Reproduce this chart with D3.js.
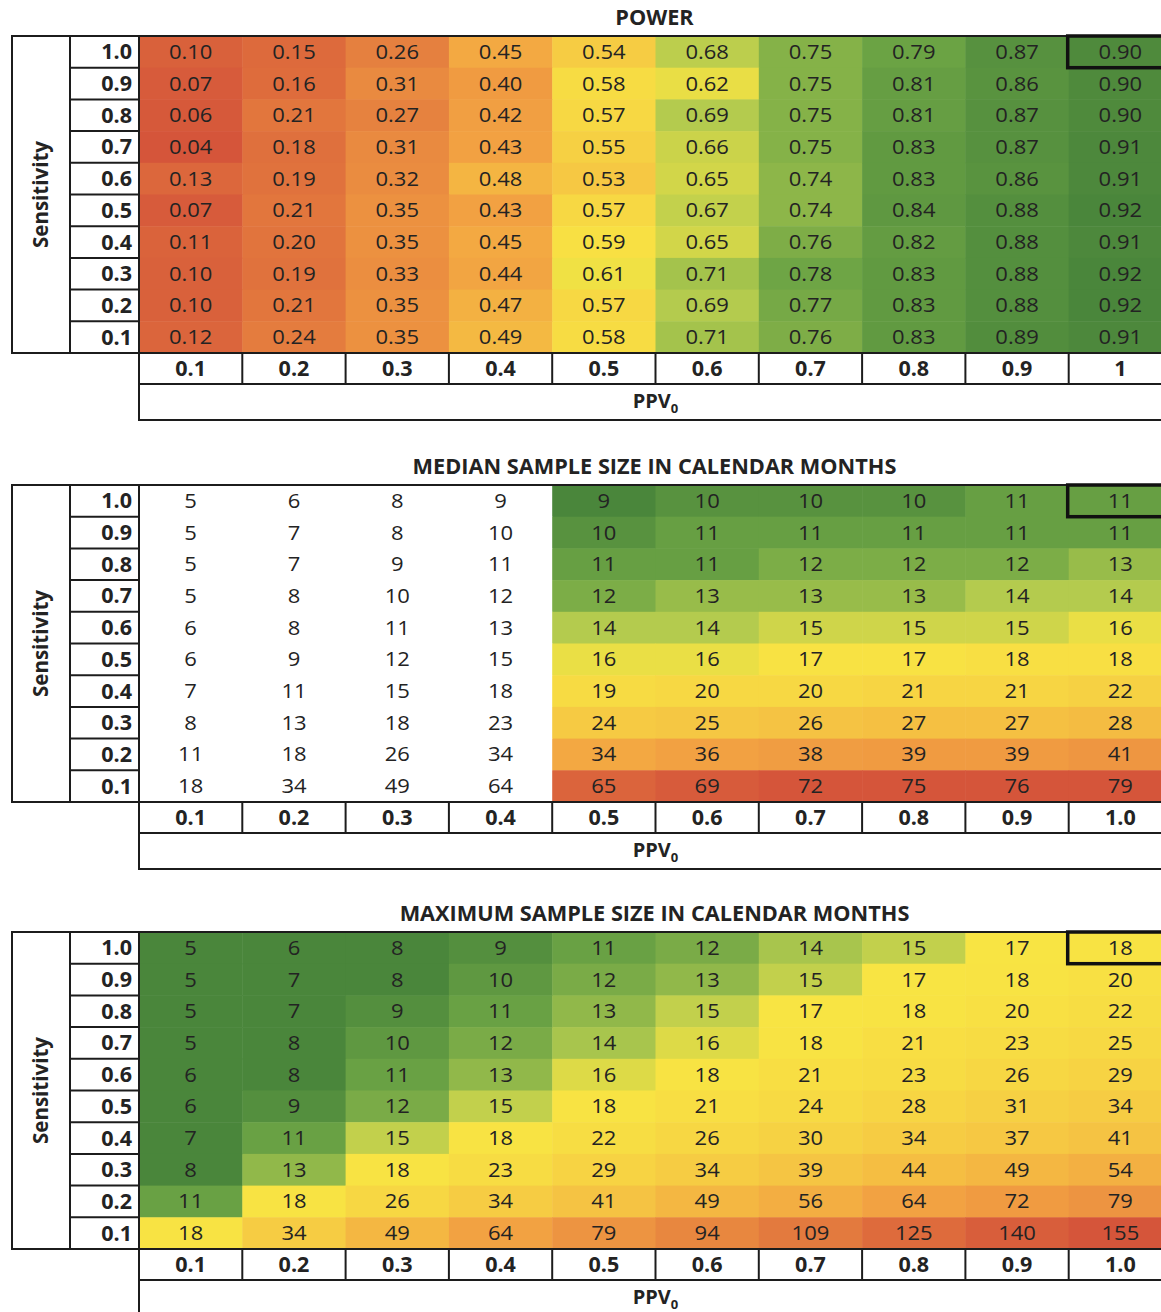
<!DOCTYPE html>
<html>
<head>
<meta charset="utf-8">
<script src="https://cdn.jsdelivr.net/npm/d3@7"></script>
<style>
  html, body { margin: 0; padding: 0; background: #ffffff; }
  svg { display: block; }
  text { font-family: "Open Sans", "Noto Sans", sans-serif; fill: #232323; }
</style>
</head>
<body>
<svg id="chart" width="1161" height="1312"></svg>
<script>
// Row categories (sensitivity), top to bottom
const sensitivity = ["1.0", "0.9", "0.8", "0.7", "0.6", "0.5", "0.4", "0.3", "0.2", "0.1"];
// Column categories (PPV0), left to right
const ppvTicksPower = ["0.1", "0.2", "0.3", "0.4", "0.5", "0.6", "0.7", "0.8", "0.9", "1"];
const ppvTicksMonths = ["0.1", "0.2", "0.3", "0.4", "0.5", "0.6", "0.7", "0.8", "0.9", "1.0"];

// Power by sensitivity (rows) and PPV0 (columns)
const powerValues = [
  [0.10, 0.15, 0.26, 0.45, 0.54, 0.68, 0.75, 0.79, 0.87, 0.90],
  [0.07, 0.16, 0.31, 0.40, 0.58, 0.62, 0.75, 0.81, 0.86, 0.90],
  [0.06, 0.21, 0.27, 0.42, 0.57, 0.69, 0.75, 0.81, 0.87, 0.90],
  [0.04, 0.18, 0.31, 0.43, 0.55, 0.66, 0.75, 0.83, 0.87, 0.91],
  [0.13, 0.19, 0.32, 0.48, 0.53, 0.65, 0.74, 0.83, 0.86, 0.91],
  [0.07, 0.21, 0.35, 0.43, 0.57, 0.67, 0.74, 0.84, 0.88, 0.92],
  [0.11, 0.20, 0.35, 0.45, 0.59, 0.65, 0.76, 0.82, 0.88, 0.91],
  [0.10, 0.19, 0.33, 0.44, 0.61, 0.71, 0.78, 0.83, 0.88, 0.92],
  [0.10, 0.21, 0.35, 0.47, 0.57, 0.69, 0.77, 0.83, 0.88, 0.92],
  [0.12, 0.24, 0.35, 0.49, 0.58, 0.71, 0.76, 0.83, 0.89, 0.91]
];

// Median sample size in calendar months
const medianMonths = [
  [5, 6, 8, 9, 9, 10, 10, 10, 11, 11],
  [5, 7, 8, 10, 10, 11, 11, 11, 11, 11],
  [5, 7, 9, 11, 11, 11, 12, 12, 12, 13],
  [5, 8, 10, 12, 12, 13, 13, 13, 14, 14],
  [6, 8, 11, 13, 14, 14, 15, 15, 15, 16],
  [6, 9, 12, 15, 16, 16, 17, 17, 18, 18],
  [7, 11, 15, 18, 19, 20, 20, 21, 21, 22],
  [8, 13, 18, 23, 24, 25, 26, 27, 27, 28],
  [11, 18, 26, 34, 34, 36, 38, 39, 39, 41],
  [18, 34, 49, 64, 65, 69, 72, 75, 76, 79]
];

// Maximum sample size in calendar months
const maxMonths = [
  [5, 6, 8, 9, 11, 12, 14, 15, 17, 18],
  [5, 7, 8, 10, 12, 13, 15, 17, 18, 20],
  [5, 7, 9, 11, 13, 15, 17, 18, 20, 22],
  [5, 8, 10, 12, 14, 16, 18, 21, 23, 25],
  [6, 8, 11, 13, 16, 18, 21, 23, 26, 29],
  [6, 9, 12, 15, 18, 21, 24, 28, 31, 34],
  [7, 11, 15, 18, 22, 26, 30, 34, 37, 41],
  [8, 13, 18, 23, 29, 34, 39, 44, 49, 54],
  [11, 18, 26, 34, 41, 49, 56, 64, 72, 79],
  [18, 34, 49, 64, 79, 94, 109, 125, 140, 155]
];

// Colour ramp shared by the three tables: red -> orange -> yellow -> greens
const rampColours = ["#d5553a", "#f2a142", "#f8e443", "#b4cb4e", "#6ea545", "#4a863b"];
// Value at which each ramp colour is reached, per table
const powerStops = [0.04, 0.43, 0.60, 0.69, 0.78, 0.92];
const medianStops = [72, 36, 16.5, 14, 11.5, 9];
const maxStops = [150, 65, 17, 14.5, 11.5, 8];

const panels = [
  { title: "POWER", values: powerValues, ticks: ppvTicksPower, stops: powerStops,
    fmt: d3.format(".2f"), firstColoured: 0, top: 36 },
  { title: "MEDIAN SAMPLE SIZE IN CALENDAR MONTHS", values: medianMonths, ticks: ppvTicksMonths,
    stops: medianStops, fmt: d3.format("d"), firstColoured: 4, top: 485 },
  { title: "MAXIMUM SAMPLE SIZE IN CALENDAR MONTHS", values: maxMonths, ticks: ppvTicksMonths,
    stops: maxStops, fmt: d3.format("d"), firstColoured: 0, top: 932 }
];

const svg = d3.select("#chart");

const outerLeft = 12, labelColRight = 70, gridLeft = 139, gridRight = 1172;
const gridHeight = 317, axisRowH = 31, ppvRowH = 36;
const line = "#1c1c1c", lw = 2;

const x = d3.scaleBand().domain(d3.range(10)).range([gridLeft, gridRight]);

// Places text at its data-x/data-y anchor with a horizontal stretch
function stretchedText(sel, sx) {
  return sel.attr("transform", function () {
    const tx = +this.getAttribute("data-x"), ty = +this.getAttribute("data-y");
    return `translate(${tx},${ty}) scale(${sx},1)`;
  });
}

panels.forEach((p) => {
  const g = svg.append("g");
  const top = p.top, bottom = top + gridHeight;
  const y = d3.scaleBand().domain(d3.range(10)).range([top, bottom]);
  const colour = d3.scaleLinear().domain(p.stops).range(rampColours)
    .interpolate(d3.interpolateRgb).clamp(true);

  const cells = [];
  p.values.forEach((row, r) => row.forEach((v, c) => cells.push({ r, c, v })));

  // Heat cells
  g.selectAll("rect.cell").data(cells).join("rect")
    .attr("class", "cell")
    .attr("x", d => x(d.c)).attr("y", d => y(d.r))
    .attr("width", x.bandwidth() + 0.5).attr("height", y.bandwidth() + 0.5)
    .attr("fill", d => d.c >= p.firstColoured ? colour(d.v) : "#ffffff");

  // Cell values
  g.selectAll("text.val").data(cells).join("text")
    .attr("class", "val")
    .attr("data-x", d => x(d.c) + x.bandwidth() / 2)
    .attr("data-y", d => y(d.r) + y.bandwidth() / 2 + 7)
    .attr("text-anchor", "middle")
    .style("font-size", "20px")
    .text(d => p.fmt(d.v))
    .call(stretchedText, 1.1);

  // Title
  g.append("text")
    .attr("data-x", (gridLeft + gridRight) / 2 - 1).attr("data-y", top - 11)
    .attr("text-anchor", "middle")
    .style("font-size", "20.5px").style("font-weight", 700)
    .text(p.title)
    .call(stretchedText, 1.06);

  // Sensitivity block (label column + tick column)
  g.append("rect").attr("x", outerLeft).attr("y", top)
    .attr("width", gridLeft - outerLeft).attr("height", gridHeight)
    .attr("fill", "none").attr("stroke", line).attr("stroke-width", lw);
  g.append("line").attr("x1", labelColRight).attr("x2", labelColRight)
    .attr("y1", top).attr("y2", bottom).attr("stroke", line).attr("stroke-width", lw);
  g.selectAll("line.rowsep").data(d3.range(1, 10)).join("line")
    .attr("class", "rowsep")
    .attr("x1", labelColRight).attr("x2", gridLeft)
    .attr("y1", i => y(i)).attr("y2", i => y(i))
    .attr("stroke", line).attr("stroke-width", lw);

  g.selectAll("text.sens").data(sensitivity).join("text")
    .attr("class", "sens")
    .attr("data-x", gridLeft - 7)
    .attr("data-y", (d, i) => y(i) + y.bandwidth() / 2 + 7.5)
    .attr("text-anchor", "end")
    .style("font-size", "20.5px").style("font-weight", 700)
    .text(d => d)
    .call(stretchedText, 1.05);

  g.append("text")
    .attr("transform", `translate(${(outerLeft + labelColRight) / 2 + 7},${(top + bottom) / 2}) rotate(-90)`)
    .attr("text-anchor", "middle")
    .style("font-size", "20.5px").style("font-weight", 700)
    .text("Sensitivity");

  // Top border across the whole table
  g.append("line").attr("x1", outerLeft).attr("x2", gridRight)
    .attr("y1", top).attr("y2", top).attr("stroke", line).attr("stroke-width", lw);

  // PPV0 tick row
  g.append("rect").attr("x", gridLeft).attr("y", bottom)
    .attr("width", gridRight - gridLeft).attr("height", axisRowH)
    .attr("fill", "#ffffff").attr("stroke", line).attr("stroke-width", lw);
  g.selectAll("line.colsep").data(d3.range(1, 10)).join("line")
    .attr("class", "colsep")
    .attr("x1", i => x(i)).attr("x2", i => x(i))
    .attr("y1", bottom).attr("y2", bottom + axisRowH)
    .attr("stroke", line).attr("stroke-width", lw);
  g.selectAll("text.tick").data(p.ticks).join("text")
    .attr("class", "tick")
    .attr("data-x", (d, i) => x(i) + x.bandwidth() / 2)
    .attr("data-y", bottom + axisRowH / 2 + 7.5)
    .attr("text-anchor", "middle")
    .style("font-size", "20.5px").style("font-weight", 700)
    .text(d => d)
    .call(stretchedText, 1.05);

  // PPV0 axis title row
  g.append("rect").attr("x", gridLeft).attr("y", bottom + axisRowH)
    .attr("width", gridRight - gridLeft).attr("height", ppvRowH)
    .attr("fill", "none").attr("stroke", line).attr("stroke-width", lw);
  const ppv = g.append("text")
    .attr("x", (gridLeft + gridRight) / 2).attr("y", bottom + axisRowH + 24)
    .attr("text-anchor", "middle")
    .style("font-size", "20px").style("font-weight", 700);
  ppv.append("tspan").text("PPV");
  ppv.append("tspan").attr("dy", 5).style("font-size", "13px").text("0");

  // Highlighted reference cell (sensitivity 1.0, PPV0 1.0)
  g.append("rect")
    .attr("x", x(9) - 1).attr("y", y(0))
    .attr("width", x.bandwidth()).attr("height", y.bandwidth())
    .attr("fill", "none").attr("stroke", "#111").attr("stroke-width", 3.5);
});
</script>
</body>
</html>
